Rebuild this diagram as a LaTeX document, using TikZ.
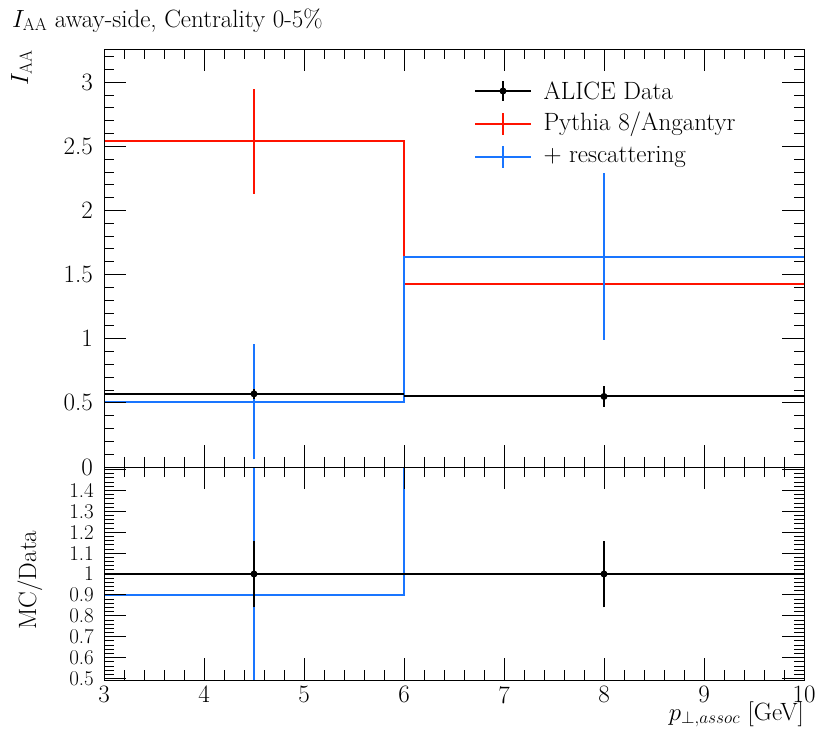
\documentclass[tikz,border=0pt]{standalone}
\begin{document}
\begin{tikzpicture}[x=1pt,y=-1pt,font=\fontsize{25}{28}\selectfont,
  blk/.style={draw=black,line width=2pt},
  redl/.style={draw=red!85!orange,line width=2pt},
  blul/.style={draw=blue!60!cyan!90!white,line width=2pt},
  frame/.style={draw=black,line width=0.9pt},
  tk/.style={draw=black,line width=0.8pt},
  dot/.style={circle,fill=black,inner sep=0pt,minimum size=7pt}]
\def\X#1{{104+100*(#1-3)}}
\def\Y#1{{467-128.3*(#1)}}
\def\R#1{{574-209*((#1)-1)}}
\useasboundingbox (0,0) rectangle (830,750);
% data main
\begin{scope}
\clip (104,49) rectangle (804,467);
\draw[redl] (\X{3},\Y{2.54}) -- (\X{6},\Y{2.54}) -- (\X{6},\Y{1.43}) -- (\X{10},\Y{1.43});
\draw[redl] (\X{4.5},\Y{2.13}) -- (\X{4.5},\Y{2.95});
\draw[redl] (\X{8},\Y{1.30}) -- (\X{8},\Y{1.56});
\draw[blul] (\X{3},\Y{0.51}) -- (\X{6},\Y{0.51}) -- (\X{6},\Y{1.64}) -- (\X{10},\Y{1.64});
\draw[blul] (\X{4.5},\Y{0.06}) -- (\X{4.5},\Y{0.96});
\draw[blul] (\X{8},\Y{0.99}) -- (\X{8},\Y{2.29});
\draw[blk] (\X{3},\Y{0.57}) -- (\X{6},\Y{0.57});
\draw[blk] (\X{6},\Y{0.55}) -- (\X{10},\Y{0.55});
\draw[blk] (\X{4.5},\Y{0.53}) -- (\X{4.5},\Y{0.61});
\draw[blk] (\X{8},\Y{0.47}) -- (\X{8},\Y{0.63});
\node[dot] (d1) at (\X{4.5},\Y{0.57}) {};
\node[dot] (d2) at (\X{8},\Y{0.55}) {};
\end{scope}
% data ratio
\begin{scope}
\clip (104,467) rectangle (804,680);
\draw[blul] (\X{3},\R{0.9}) -- (\X{6},\R{0.9}) -- (\X{6},\R{3});
\draw[blul] (\X{4.5},\R{0.0}) -- (\X{4.5},\R{2.0});
\draw[blk] (\X{3},\R{1}) -- (\X{10},\R{1});
\draw[blk] (\X{4.5},\R{0.84}) -- (\X{4.5},\R{1.16});
\draw[blk] (\X{8},\R{0.84}) -- (\X{8},\R{1.16});
\node[dot] (r1) at (\X{4.5},\R{1}) {};
\node[dot] (r2) at (\X{8},\R{1}) {};
\end{scope}
% frames
\draw[frame] (104,49) rectangle (804,467);
\draw[frame] (104,467) rectangle (804,680);
% x ticks
\foreach \i in {0,...,35}{
  \pgfmathsetmacro\xx{104+20*\i}
  \pgfmathsetmacro\ll{mod(\i,5)==0 ? 22 : 10}
  \draw[tk] (\xx,49) -- ++(0,\ll);
  \draw[tk] (\xx,467) -- ++(0,-\ll);
  \draw[tk] (\xx,467) -- ++(0,\ll);
  \draw[tk] (\xx,680) -- ++(0,-\ll);
}
\foreach \v in {3,...,10}{\node[anchor=north,inner sep=1pt] (xl\v) at (\X{\v},685) {\v};}
% main y ticks
\foreach \i in {0,...,32}{
  \pgfmathsetmacro\yy{467-12.83*\i}
  \pgfmathsetmacro\ll{mod(\i,5)==0 ? 22 : 10}
  \draw[tk] (104,\yy) -- ++(\ll,0);
  \draw[tk] (804,\yy) -- ++(-\ll,0);
}
\foreach \v/\t in {0/0,0.5/0.5,1/1,1.5/1.5,2/2,2.5/2.5,3/3}{\node[anchor=east,inner sep=1pt] (yl\t) at (94,\Y{\v}) {\t};}
% ratio y ticks
\foreach \i in {0,...,50}{
  \pgfmathsetmacro\yy{574-209*(0.5+0.02*\i-1)}
  \pgfmathsetmacro\ll{mod(\i,5)==0 ? 22 : 10}
  \draw[tk] (104,\yy) -- ++(\ll,0);
  \draw[tk] (804,\yy) -- ++(-\ll,0);
}
\foreach \t in {0.5,0.6,0.7,0.8,0.9,1,1.1,1.2,1.3,1.4}{\node[anchor=east,inner sep=0pt,font=\fontsize{21}{22}\selectfont] (rl\t) at (94,\R{\t}) {\t};}
% labels
\node[anchor=base west,inner sep=0pt] (title) at (12,27) {$I_{\mathrm{AA}}$ away-side, Centrality 0-5\%};
\node[anchor=base east,rotate=90,inner sep=0pt] (ylab) at (28,50) {$I_{\mathrm{AA}}$};
\node[anchor=base,rotate=90,inner sep=0pt] (rlab) at (36,580) {MC/Data};
\node[anchor=base east,inner sep=0pt] (xlab) at (804,720) {$p_{\perp,assoc}$ [GeV]};
% legend
\coordinate (la1) at (475,91); \coordinate (lb1) at (531,91);
\coordinate (la2) at (475,124); \coordinate (lb2) at (531,124);
\coordinate (la3) at (475,157); \coordinate (lb3) at (531,157);
\draw[blk] (la1) -- (lb1); \draw[blk] (503,81) -- (503,101);
\node[dot] (ld) at (503,91) {};
\draw[redl] (la2) -- (lb2); \draw[redl] (503,113) -- (503,135);
\draw[blul] (la3) -- (lb3); \draw[blul] (503,146) -- (503,168);
\node[anchor=west] (t1) at (540,91) {ALICE Data};
\node[anchor=west] (t2) at (540,124) {Pythia 8/Angantyr};
\node[anchor=west] (t3) at (540,157) {+ rescattering};
\end{tikzpicture}
\end{document}
